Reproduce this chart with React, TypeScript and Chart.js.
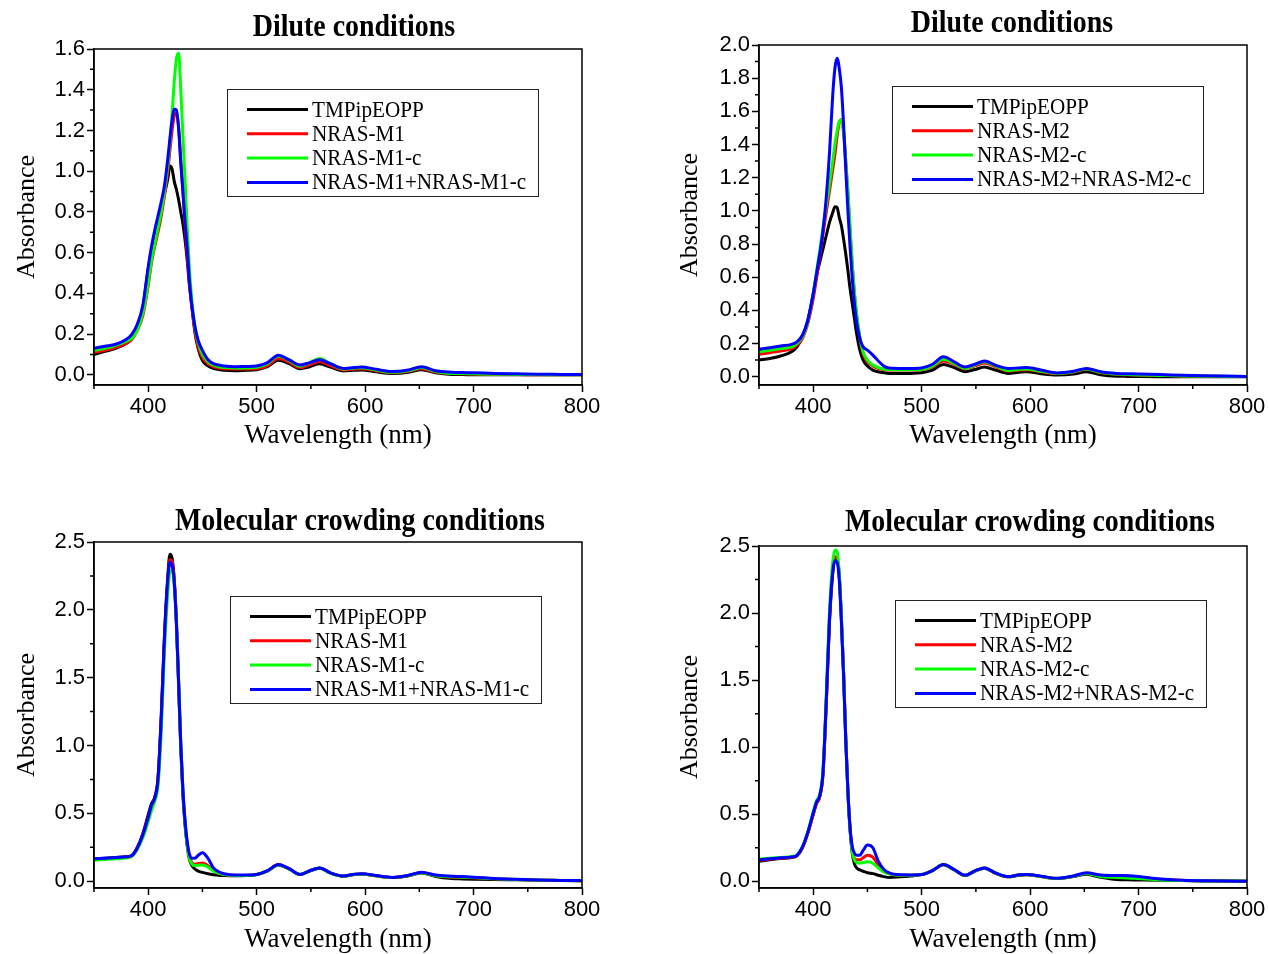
import React, { useEffect, useRef } from "react";
import { Chart, registerables } from "chart.js";

Chart.register(...registerables);

// ---------- data ----------
const WAVELENGTHS = [
  350, 360, 370, 380, 385, 390, 395, 400,
  403, 406, 409, 412, 415, 418, 420, 422,
  424, 426, 428, 430, 432, 434, 436, 438,
  440, 443, 446, 450, 455, 460, 465, 470,
  480, 490, 500, 510, 520, 530, 540, 549,
  558, 568, 580, 590, 597, 610, 625, 640,
  652, 665, 680, 690, 700, 720, 740, 760,
  780, 800,
];

const LABELS_M1 = ["TMPipEOPP", "NRAS-M1", "NRAS-M1-c", "NRAS-M1+NRAS-M1-c"];
const LABELS_M2 = ["TMPipEOPP", "NRAS-M2", "NRAS-M2-c", "NRAS-M2+NRAS-M2-c"];
const SERIES_COLORS = ["#000000", "#ff0000", "#00ff00", "#0000ff"];

const TITLE_DILUTE = "Dilute conditions";
const TITLE_CROWDING = "Molecular crowding conditions";

const X_MAJOR = [400, 500, 600, 700, 800];
const X_MINOR = [350, 450, 550, 650, 750];
const Y_MAJOR_16 = [0, 0.2, 0.4, 0.6, 0.8, 1.0, 1.2, 1.4, 1.6];
const Y_MINOR_16 = [0.1, 0.3, 0.5, 0.7, 0.9, 1.1, 1.3, 1.5];
const Y_MAJOR_20 = [0, 0.2, 0.4, 0.6, 0.8, 1.0, 1.2, 1.4, 1.6, 1.8, 2.0];
const Y_MINOR_20 = [0.1, 0.3, 0.5, 0.7, 0.9, 1.1, 1.3, 1.5, 1.7, 1.9];
const Y_MAJOR_25 = [0, 0.5, 1.0, 1.5, 2.0, 2.5];
const Y_MINOR_25 = [0.25, 0.75, 1.25, 1.75, 2.25];

// Dilute, NRAS-M1 panel
const D1_TMP = [
  0.100, 0.115, 0.130, 0.155, 0.18, 0.23, 0.33, 0.52,
  0.61, 0.68, 0.76, 0.82, 0.89, 0.96, 1.025, 1.01,
  0.95, 0.91, 0.86, 0.80, 0.74, 0.66, 0.56, 0.44,
  0.35, 0.21, 0.13, 0.07, 0.045, 0.032, 0.026, 0.022,
  0.020, 0.022, 0.025, 0.04, 0.072, 0.055, 0.03, 0.04,
  0.054, 0.038, 0.019, 0.022, 0.024, 0.015, 0.006, 0.012,
  0.025, 0.01, 0.002, 0.001, 0.0, 0.0, 0.0, 0.0,
  0.0, 0.0,
];
const D1_M1 = [
  0.11, 0.12, 0.135, 0.155, 0.175, 0.22, 0.29, 0.44,
  0.55, 0.63, 0.70, 0.78, 0.88, 1.00, 1.10, 1.20,
  1.27, 1.285, 1.22, 1.06, 0.90, 0.74, 0.58, 0.45,
  0.34, 0.22, 0.14, 0.085, 0.055, 0.04, 0.033, 0.03,
  0.028, 0.028, 0.03, 0.045, 0.08, 0.062, 0.036, 0.05,
  0.066, 0.045, 0.024, 0.028, 0.03, 0.02, 0.01, 0.017,
  0.03, 0.014, 0.006, 0.005, 0.004, 0.002, 0.001, 0.0,
  0.0, 0.0,
];
const D1_M1C = [
  0.12, 0.13, 0.145, 0.165, 0.18, 0.22, 0.30, 0.45,
  0.56, 0.64, 0.72, 0.80, 0.90, 1.03, 1.14, 1.28,
  1.44, 1.55, 1.58, 1.40, 1.17, 0.95, 0.72, 0.52,
  0.38, 0.24, 0.16, 0.10, 0.065, 0.048, 0.04, 0.036,
  0.034, 0.034, 0.037, 0.055, 0.092, 0.07, 0.042, 0.06,
  0.08, 0.055, 0.028, 0.033, 0.035, 0.024, 0.012, 0.02,
  0.036, 0.016, 0.007, 0.006, 0.005, 0.003, 0.002, 0.001,
  0.0, 0.0,
];
const D1_MIX = [
  0.13, 0.14, 0.15, 0.175, 0.20, 0.25, 0.34, 0.53,
  0.63, 0.71, 0.78, 0.85, 0.93, 1.06, 1.16, 1.25,
  1.305, 1.30, 1.21, 1.04, 0.90, 0.75, 0.62, 0.46,
  0.35, 0.24, 0.17, 0.12, 0.075, 0.055, 0.048, 0.043,
  0.04, 0.041, 0.043, 0.06, 0.096, 0.073, 0.048, 0.06,
  0.074, 0.055, 0.031, 0.036, 0.038, 0.027, 0.016, 0.024,
  0.04, 0.02, 0.013, 0.011, 0.01, 0.007, 0.005, 0.003,
  0.002, 0.001,
];

// Dilute, NRAS-M2 panel
const D2_TMP = [
  0.10, 0.11, 0.125, 0.15, 0.18, 0.24, 0.34, 0.50,
  0.61, 0.69, 0.77, 0.85, 0.93, 0.99, 1.025, 1.02,
  0.96, 0.91, 0.83, 0.74, 0.64, 0.53, 0.44, 0.35,
  0.26, 0.16, 0.10, 0.065, 0.04, 0.03, 0.024, 0.02,
  0.019, 0.02, 0.024, 0.04, 0.073, 0.055, 0.03, 0.043,
  0.058, 0.04, 0.02, 0.027, 0.03, 0.018, 0.01, 0.016,
  0.03, 0.012, 0.003, 0.002, 0.001, 0.0, 0.0, 0.0,
  0.0, 0.0,
];
const D2_M2 = [
  0.135, 0.145, 0.155, 0.17, 0.19, 0.23, 0.32, 0.47,
  0.59, 0.72, 0.86, 0.99, 1.12, 1.25, 1.34, 1.45,
  1.53, 1.55, 1.48, 1.30, 1.10, 0.88, 0.67, 0.50,
  0.37, 0.23, 0.14, 0.09, 0.065, 0.05, 0.043, 0.04,
  0.04, 0.04, 0.042, 0.06, 0.095, 0.075, 0.048, 0.065,
  0.082, 0.06, 0.035, 0.04, 0.042, 0.03, 0.018, 0.028,
  0.045, 0.025, 0.015, 0.012, 0.01, 0.007, 0.005, 0.003,
  0.002, 0.001,
];
const D2_M2C = [
  0.15, 0.16, 0.17, 0.18, 0.20, 0.24, 0.33, 0.50,
  0.63, 0.76, 0.90, 1.03, 1.16, 1.30, 1.40, 1.48,
  1.54, 1.55, 1.47, 1.30, 1.12, 0.90, 0.68, 0.51,
  0.38, 0.24, 0.15, 0.10, 0.07, 0.055, 0.047, 0.043,
  0.042, 0.042, 0.044, 0.065, 0.105, 0.08, 0.05, 0.07,
  0.09, 0.065, 0.038, 0.044, 0.047, 0.033, 0.02, 0.03,
  0.047, 0.027, 0.016, 0.013, 0.011, 0.008, 0.005, 0.003,
  0.002, 0.001,
];
const D2_MIX = [
  0.165, 0.175, 0.185, 0.195, 0.21, 0.25, 0.34, 0.50,
  0.62, 0.74, 0.88, 1.08, 1.35, 1.70, 1.86, 1.92,
  1.86, 1.74, 1.52, 1.25, 1.00, 0.78, 0.59, 0.44,
  0.33, 0.23, 0.18, 0.16, 0.13, 0.095, 0.065, 0.052,
  0.05, 0.05, 0.053, 0.075, 0.12, 0.09, 0.059, 0.075,
  0.095, 0.07, 0.05, 0.053, 0.055, 0.04, 0.023, 0.033,
  0.05, 0.03, 0.02, 0.018, 0.016, 0.013, 0.009, 0.006,
  0.004, 0.002,
];

// Molecular crowding, NRAS-M1 panel
const C1_TMP = [
  0.165, 0.17, 0.175, 0.18, 0.19, 0.25, 0.35, 0.49,
  0.57, 0.62, 0.76, 1.22, 1.82, 2.24, 2.41, 2.38,
  2.22, 1.90, 1.45, 0.98, 0.63, 0.41, 0.26, 0.16,
  0.12, 0.09, 0.075, 0.065, 0.055, 0.048, 0.044, 0.042,
  0.04, 0.042, 0.05, 0.075, 0.12, 0.09, 0.05, 0.075,
  0.095, 0.06, 0.037, 0.05, 0.053, 0.04, 0.027, 0.04,
  0.06, 0.035, 0.02, 0.017, 0.015, 0.012, 0.01, 0.007,
  0.005, 0.004,
];
const C1_M1 = [
  0.16, 0.165, 0.17, 0.178, 0.188, 0.245, 0.34, 0.47,
  0.55, 0.61, 0.74, 1.18, 1.78, 2.20, 2.37, 2.36,
  2.22, 1.92, 1.48, 1.01, 0.66, 0.43, 0.27, 0.18,
  0.14, 0.125, 0.13, 0.135, 0.115, 0.08, 0.06, 0.05,
  0.043, 0.043, 0.05, 0.077, 0.123, 0.092, 0.05, 0.077,
  0.098, 0.062, 0.038, 0.05, 0.054, 0.04, 0.027, 0.042,
  0.064, 0.04, 0.03, 0.028, 0.025, 0.018, 0.012, 0.008,
  0.006, 0.004,
];
const C1_M1C = [
  0.155, 0.16, 0.165, 0.172, 0.183, 0.235, 0.32, 0.44,
  0.52, 0.59, 0.70, 1.10, 1.70, 2.12, 2.28, 2.29,
  2.18, 1.90, 1.48, 1.02, 0.67, 0.43, 0.26, 0.17,
  0.13, 0.115, 0.118, 0.12, 0.105, 0.075, 0.058, 0.05,
  0.043, 0.043, 0.05, 0.077, 0.122, 0.09, 0.05, 0.076,
  0.097, 0.06, 0.037, 0.05, 0.053, 0.04, 0.027, 0.042,
  0.063, 0.04, 0.032, 0.03, 0.027, 0.018, 0.012, 0.008,
  0.006, 0.004,
];
const C1_MIX = [
  0.165, 0.17, 0.175, 0.18, 0.19, 0.245, 0.34, 0.47,
  0.56, 0.61, 0.75, 1.20, 1.80, 2.22, 2.35, 2.33,
  2.20, 1.90, 1.47, 1.01, 0.67, 0.44, 0.29, 0.20,
  0.17, 0.17, 0.19, 0.21, 0.17, 0.10, 0.07, 0.055,
  0.045, 0.045, 0.05, 0.078, 0.123, 0.092, 0.05, 0.077,
  0.098, 0.062, 0.038, 0.052, 0.055, 0.042, 0.028, 0.044,
  0.066, 0.045, 0.037, 0.034, 0.03, 0.02, 0.014, 0.009,
  0.006, 0.005,
];

// Molecular crowding, NRAS-M2 panel
const C2_TMP = [
  0.15, 0.16, 0.17, 0.178, 0.19, 0.25, 0.36, 0.50,
  0.58, 0.63, 0.80, 1.32, 1.93, 2.30, 2.40, 2.40,
  2.28, 1.95, 1.55, 1.06, 0.66, 0.38, 0.21, 0.13,
  0.10, 0.085, 0.075, 0.064, 0.057, 0.045, 0.035, 0.028,
  0.033, 0.04, 0.05, 0.08, 0.123, 0.085, 0.043, 0.075,
  0.098, 0.06, 0.033, 0.045, 0.048, 0.035, 0.02, 0.035,
  0.052, 0.03, 0.013, 0.011, 0.01, 0.008, 0.005, 0.003,
  0.002, 0.001,
];
const C2_M2 = [
  0.155, 0.165, 0.172, 0.18, 0.192, 0.25, 0.36, 0.50,
  0.58, 0.63, 0.80, 1.33, 1.95, 2.32, 2.42, 2.41,
  2.28, 1.96, 1.56, 1.07, 0.67, 0.39, 0.23, 0.17,
  0.16, 0.16, 0.175, 0.195, 0.18, 0.12, 0.08, 0.058,
  0.045, 0.045, 0.05, 0.08, 0.125, 0.087, 0.043, 0.076,
  0.10, 0.062, 0.034, 0.047, 0.05, 0.036, 0.021, 0.037,
  0.058, 0.045, 0.043, 0.04, 0.033, 0.015, 0.007, 0.004,
  0.002, 0.001,
];
const C2_M2C = [
  0.165, 0.172, 0.178, 0.185, 0.197, 0.26, 0.37, 0.52,
  0.60, 0.65, 0.83, 1.38, 2.02, 2.38, 2.47, 2.46,
  2.30, 1.97, 1.56, 1.07, 0.67, 0.39, 0.22, 0.16,
  0.14, 0.135, 0.14, 0.145, 0.135, 0.10, 0.07, 0.055,
  0.045, 0.045, 0.05, 0.08, 0.125, 0.087, 0.043, 0.076,
  0.10, 0.062, 0.034, 0.047, 0.05, 0.036, 0.021, 0.037,
  0.058, 0.035, 0.028, 0.025, 0.02, 0.01, 0.005, 0.003,
  0.002, 0.001,
];
const C2_MIX = [
  0.16, 0.168, 0.175, 0.182, 0.194, 0.255, 0.365, 0.51,
  0.59, 0.64, 0.81, 1.34, 1.96, 2.31, 2.39, 2.38,
  2.25, 1.93, 1.53, 1.05, 0.67, 0.40, 0.26, 0.21,
  0.195, 0.195, 0.23, 0.27, 0.25, 0.15, 0.09, 0.062,
  0.048, 0.047, 0.05, 0.08, 0.125, 0.088, 0.045, 0.077,
  0.10, 0.063, 0.035, 0.048, 0.05, 0.038, 0.022, 0.04,
  0.063, 0.047, 0.043, 0.041, 0.035, 0.017, 0.008, 0.004,
  0.002, 0.001,
];

// ---------- layout (positions only) ----------
type PanelCfg = {
  left: number; top: number; w: number; h: number;
  pad: { left: number; right: number; top: number; bottom: number };
  yW: number; xH: number; yTitlePad: number; xTitlePad: number;
  yMax: number; yMajor: number[]; yMinor: number[];
  title: string; titleX: number; titleY: number;
  legendX: number; legendY: number;
  labels: string[]; series: number[][];
};

const PANELS: PanelCfg[] = [
  {
    left: 0, top: 0, w: 634, h: 470,
    pad: { left: 0, right: 52, top: 49, bottom: 0 },
    yW: 94, xH: 85, yTitlePad: 14, xTitlePad: 20.5,
    yMax: 1.6, yMajor: Y_MAJOR_16, yMinor: Y_MINOR_16,
    title: TITLE_DILUTE, titleX: 354, titleY: 28,
    legendX: 227, legendY: 89,
    labels: LABELS_M1, series: [D1_TMP, D1_M1, D1_M1C, D1_MIX],
  },
  {
    left: 634, top: 0, w: 635, h: 470,
    pad: { left: 0, right: 22, top: 45, bottom: 0 },
    yW: 125, xH: 85, yTitlePad: 43, xTitlePad: 20.5,
    yMax: 2.0, yMajor: Y_MAJOR_20, yMinor: Y_MINOR_20,
    title: TITLE_DILUTE, titleX: 378, titleY: 24,
    legendX: 258, legendY: 86,
    labels: LABELS_M2, series: [D2_TMP, D2_M2, D2_M2C, D2_MIX],
  },
  {
    left: 0, top: 470, w: 634, h: 484,
    pad: { left: 0, right: 52, top: 72, bottom: 0 },
    yW: 94, xH: 66, yTitlePad: 14, xTitlePad: 0.5,
    yMax: 2.5, yMajor: Y_MAJOR_25, yMinor: Y_MINOR_25,
    title: TITLE_CROWDING, titleX: 360, titleY: 52,
    legendX: 230, legendY: 126,
    labels: LABELS_M1, series: [C1_TMP, C1_M1, C1_M1C, C1_MIX],
  },
  {
    left: 634, top: 470, w: 635, h: 484,
    pad: { left: 0, right: 22, top: 76, bottom: 0 },
    yW: 125, xH: 66, yTitlePad: 43, xTitlePad: 0.5,
    yMax: 2.5, yMajor: Y_MAJOR_25, yMinor: Y_MINOR_25,
    title: TITLE_CROWDING, titleX: 396, titleY: 53,
    legendX: 261, legendY: 130,
    labels: LABELS_M2, series: [C2_TMP, C2_M2, C2_M2C, C2_MIX],
  },
];

const SERIF = '"Liberation Serif", "Times New Roman", serif';
const SANS = '"Liberation Sans", Arial, sans-serif';

function drawCondensed(ctx: any, text: string, x: number, y: number, font: string, sx: number, align: string) {
  ctx.save();
  ctx.font = font;
  ctx.textAlign = align;
  ctx.textBaseline = "middle";
  ctx.translate(x, y);
  ctx.scale(sx, 1);
  ctx.fillText(text, 0, 0);
  ctx.restore();
}

function makeDecor(cfg: PanelCfg) {
  return {
    id: "decor",
    afterDatasetsDraw(chart: any) {
      const { ctx, chartArea: a } = chart;
      const xs = chart.scales.x;
      const ys = chart.scales.y;
      ctx.save();
      // frame
      ctx.strokeStyle = "#000";
      ctx.lineWidth = 1.5;
      ctx.strokeRect(a.left, a.top, a.right - a.left, a.bottom - a.top);
      // minor ticks
      ctx.beginPath();
      for (const v of X_MINOR) {
        const px = xs.getPixelForValue(v);
        ctx.moveTo(px, a.bottom);
        ctx.lineTo(px, a.bottom + 4);
      }
      for (const v of cfg.yMinor) {
        const py = ys.getPixelForValue(v);
        ctx.moveTo(a.left - 4, py);
        ctx.lineTo(a.left, py);
      }
      ctx.stroke();
      // legend
      const bx = cfg.legendX, by = cfg.legendY, bw = 311, bh = 107;
      ctx.fillStyle = "#fff";
      ctx.fillRect(bx, by, bw, bh);
      ctx.strokeStyle = "#222";
      ctx.lineWidth = 1;
      ctx.strokeRect(bx + 0.5, by + 0.5, bw, bh);
      ctx.fillStyle = "#000";
      chart.data.datasets.forEach((ds: any, i: number) => {
        const y = by + 20.5 + i * 24.3;
        ctx.strokeStyle = ds.borderColor;
        ctx.lineWidth = 3;
        ctx.beginPath();
        ctx.moveTo(bx + 20, y);
        ctx.lineTo(bx + 81, y);
        ctx.stroke();
        ctx.fillStyle = "#000";
        drawCondensed(ctx, ds.label, bx + 85, y + 1, "23px " + SERIF, 0.92, "left");
      });
      // title
      ctx.fillStyle = "#000";
      drawCondensed(ctx, cfg.title, cfg.titleX, cfg.titleY, "bold 31px " + SERIF, 0.9, "center");
      ctx.restore();
    },
  };
}

function buildConfig(cfg: PanelCfg): any {
  const datasets = cfg.series.map((vals, i) => ({
    label: cfg.labels[i],
    data: WAVELENGTHS.map((x, k) => ({ x, y: vals[k] })),
    borderColor: SERIES_COLORS[i],
    backgroundColor: SERIES_COLORS[i],
    borderWidth: 3,
    pointRadius: 0,
    cubicInterpolationMode: "monotone",
    fill: false,
    order: 4 - i,
  }));
  return {
    type: "line",
    data: { datasets },
    options: {
      animation: false,
      responsive: false,
      devicePixelRatio: 1,
      layout: { padding: cfg.pad },
      plugins: { legend: { display: false }, title: { display: false }, tooltip: { enabled: false } },
      scales: {
        x: {
          type: "linear",
          min: 350,
          max: 800,
          afterFit: (s: any) => { s.height = cfg.xH; },
          afterBuildTicks: (s: any) => { s.ticks = X_MAJOR.map((v) => ({ value: v })); },
          ticks: {
            autoSkip: false,
            maxRotation: 0,
            padding: 2,
            color: "#000",
            font: { family: SANS, size: 22 },
            callback: (v: any) => String(v),
          },
          grid: { drawOnChartArea: false, drawTicks: true, tickLength: 7, tickColor: "#000", tickWidth: 1.5 },
          border: { display: true, color: "#000", width: 1.5 },
          title: {
            display: true,
            text: "Wavelength (nm)",
            color: "#000",
            font: { family: SERIF, size: 27, lineHeight: 1 },
            padding: { top: 0, bottom: cfg.xTitlePad },
          },
        },
        y: {
          type: "linear",
          min: -0.05,
          max: cfg.yMax,
          afterFit: (s: any) => { s.width = cfg.yW; },
          afterBuildTicks: (s: any) => { s.ticks = cfg.yMajor.map((v) => ({ value: v })); },
          ticks: {
            autoSkip: false,
            padding: 2,
            color: "#000",
            font: { family: SANS, size: 22 },
            callback: (v: any) => Number(v).toFixed(1),
          },
          grid: { drawOnChartArea: false, drawTicks: true, tickLength: 7, tickColor: "#000", tickWidth: 1.5 },
          border: { display: true, color: "#000", width: 1.5 },
          title: {
            display: true,
            text: "Absorbance",
            color: "#000",
            font: { family: SERIF, size: 26, lineHeight: 1 },
            padding: { top: cfg.yTitlePad, bottom: 0 },
          },
        },
      },
    },
    plugins: [makeDecor(cfg)],
  };
}

function Panel({ cfg }: { cfg: PanelCfg }) {
  const ref = useRef<HTMLCanvasElement>(null);
  useEffect(() => {
    const chart = new Chart(ref.current as HTMLCanvasElement, buildConfig(cfg));
    return () => chart.destroy();
  }, [cfg]);
  return (
    <canvas
      ref={ref}
      width={cfg.w}
      height={cfg.h}
      style={{ position: "absolute", left: cfg.left, top: cfg.top, width: cfg.w, height: cfg.h }}
    />
  );
}

export default function App() {
  return (
    <div style={{ position: "absolute", left: 0, top: 0, width: 1269, height: 954, background: "#fff" }}>
      {PANELS.map((p, i) => (
        <Panel key={i} cfg={p} />
      ))}
    </div>
  );
}
